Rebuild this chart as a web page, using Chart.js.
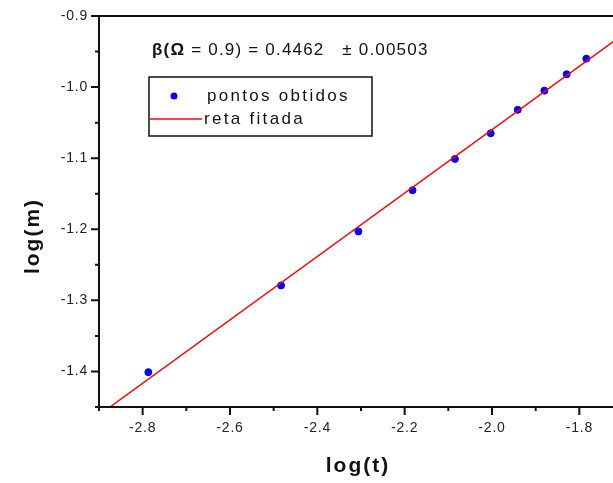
<!DOCTYPE html>
<html>
<head>
<meta charset="utf-8">
<script src="https://cdn.jsdelivr.net/npm/chart.js@4.4.0/dist/chart.umd.min.js"></script>
<style>
  html, body { margin: 0; padding: 0; background: #fff; overflow: hidden; }
  #wrap { width: 640px; height: 483px; }
</style>
</head>
<body>
<div id="wrap"><canvas id="fit-chart" width="640" height="483"></canvas></div>
<script>
// measured points: log(t) vs log(m)
const logT = [-2.787, -2.483, -2.306, -2.182, -2.085, -2.003, -1.941, -1.880, -1.829, -1.784];
const logM = [-1.401, -1.279, -1.203, -1.145, -1.101, -1.065, -1.032, -1.005, -0.982, -0.960];

// fitted straight line (slope 0.4462), two end points
const fitT = [-2.875, -1.70];
const fitM = [-1.45, -0.926];

// axis ticks
const xTicks = [-2.8, -2.6, -2.4, -2.2, -2.0, -1.8];
const xMinor = [-2.9, -2.7, -2.5, -2.3, -2.1, -1.9, -1.7];
const yTicks = [-1.4, -1.3, -1.2, -1.1, -1.0, -0.9];
const yMinor = [-1.45, -1.35, -1.25, -1.15, -1.05, -0.95];

const fitText = ['β(Ω', ' = 0.9) = 0.4462   ± 0.00503'];
const legendText = ['pontos obtidos', 'reta fitada'];

const FONT = '"Liberation Sans", Arial, sans-serif';

// axes lines, tick marks, titles, fit result and legend box
const decor = {
  id: 'decor',
  beforeDraw(chart) {
    chart.ctx.letterSpacing = '0.8px';
  },
  afterDraw(chart) {
    const ctx = chart.ctx;
    const a = chart.chartArea;
    const xs = chart.scales.x, ys = chart.scales.y;
    ctx.save();
    ctx.strokeStyle = '#111';
    ctx.lineWidth = 2;

    // left, bottom and top border
    ctx.beginPath();
    ctx.moveTo(a.left, a.top);
    ctx.lineTo(a.right, a.top);
    ctx.moveTo(a.left, a.top - 1);
    ctx.lineTo(a.left, a.bottom);
    ctx.lineTo(a.right, a.bottom);
    ctx.stroke();

    // tick marks pointing outwards
    ctx.beginPath();
    xTicks.forEach(v => { const px = xs.getPixelForValue(v); ctx.moveTo(px, a.bottom); ctx.lineTo(px, a.bottom + 8); });
    xMinor.forEach(v => { const px = xs.getPixelForValue(v); ctx.moveTo(px, a.bottom); ctx.lineTo(px, a.bottom + 4); });
    yTicks.forEach(v => { const py = ys.getPixelForValue(v); ctx.moveTo(a.left, py); ctx.lineTo(a.left - 8, py); });
    yMinor.forEach(v => { const py = ys.getPixelForValue(v); ctx.moveTo(a.left, py); ctx.lineTo(a.left - 4, py); });
    ctx.stroke();

    // axis titles
    ctx.fillStyle = '#111';
    ctx.font = 'bold 21px ' + FONT;
    ctx.letterSpacing = '2px';
    ctx.textAlign = 'center';
    ctx.textBaseline = 'middle';
    ctx.fillText('log(t)', 358, 466);
    ctx.save();
    ctx.translate(33, 236);
    ctx.rotate(-Math.PI / 2);
    ctx.fillText('log(m)', 0, 0);
    ctx.restore();

    // fit result
    ctx.textAlign = 'left';
    ctx.letterSpacing = '1.2px';
    ctx.font = 'bold 17px ' + FONT;
    ctx.fillText(fitText[0], 152, 50);
    const w0 = ctx.measureText(fitText[0]).width;
    ctx.font = '17px ' + FONT;
    ctx.fillText(fitText[1], 152 + w0, 50);

    // legend
    ctx.lineWidth = 1.5;
    ctx.strokeRect(149, 77, 223, 59);
    ctx.fillStyle = '#0000ff';
    ctx.beginPath();
    ctx.arc(174, 96, 3.5, 0, Math.PI * 2);
    ctx.fill();
    ctx.strokeStyle = '#ff0000';
    ctx.beginPath();
    ctx.moveTo(150, 119);
    ctx.lineTo(202, 119);
    ctx.stroke();
    ctx.fillStyle = '#111';
    ctx.font = '17px ' + FONT;
    ctx.letterSpacing = '2.3px';
    ctx.fillText(legendText[0], 207, 96);
    ctx.fillText(legendText[1], 204, 119);
    ctx.restore();
  }
};

new Chart(document.getElementById('fit-chart'), {
  type: 'scatter',
  data: {
    datasets: [{
      label: legendText[1],
      type: 'line',
      data: fitT.map((t, i) => ({ x: t, y: fitM[i] })),
      borderColor: '#ff0000',
      borderWidth: 1.5,
      pointRadius: 0,
      fill: false,
      order: 0
    }, {
      label: legendText[0],
      data: logT.map((t, i) => ({ x: t, y: logM[i] })),
      backgroundColor: '#0000ff',
      borderColor: '#0000ff',
      pointRadius: 3.5,
      order: 1
    }]
  },
  options: {
    responsive: false,
    animation: false,
    layout: { padding: { top: 16, right: 17, left: 0, bottom: 0 } },
    plugins: { legend: { display: false }, tooltip: { enabled: false } },
    scales: {
      x: {
        type: 'linear',
        min: -2.9,
        max: -1.7,
        grid: { display: false, drawTicks: false },
        border: { display: false },
        afterBuildTicks: s => { s.ticks = xTicks.map(v => ({ value: v })); },
        afterFit: s => { s.height = 76; s.paddingLeft = 0; s.paddingRight = 0; },
        ticks: {
          padding: 13,
          color: '#222',
          font: { family: FONT, size: 14 },
          maxRotation: 0,
          callback: v => v.toFixed(1)
        }
      },
      y: {
        type: 'linear',
        min: -1.45,
        max: -0.9,
        grid: { display: false, drawTicks: false },
        border: { display: false },
        afterBuildTicks: s => { s.ticks = yTicks.map(v => ({ value: v })); },
        afterFit: s => { s.width = 99; s.paddingTop = 0; s.paddingBottom = 0; },
        ticks: {
          padding: 11,
          color: '#222',
          font: { family: FONT, size: 14 },
          callback: v => v.toFixed(1)
        }
      }
    }
  },
  plugins: [decor]
});
</script>
</body>
</html>
